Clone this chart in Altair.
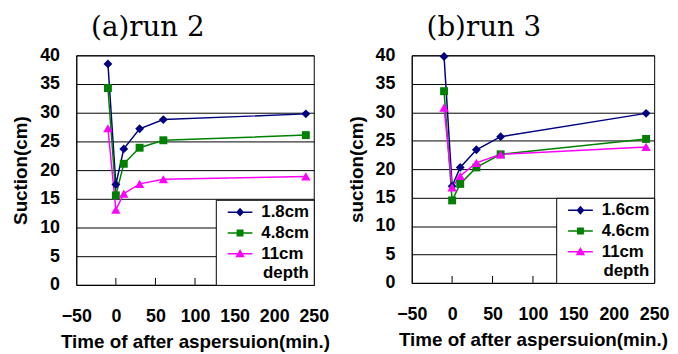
import altair as alt
import pandas as pd

# ---- data ----
times = [-10, 0, 10, 30, 60, 240]

run2_series = ["1.8cm", "4.8cm", "11cm"]
run2_values = [
    [38.5, 17.5, 23.7, 27.2, 28.8, 29.8],
    [34.3, 15.6, 21.1, 23.9, 25.2, 26.1],
    [27.3, 13.1, 15.9, 17.6, 18.4, 18.9],
]

run3_series = ["1.6cm", "4.6cm", "11cm"]
run3_values = [
    [39.8, 17.0, 20.3, 23.4, 25.7, 29.8],
    [33.7, 14.5, 17.4, 20.3, 22.6, 25.3],
    [30.8, 16.8, 18.8, 21.1, 22.6, 23.9],
]

colors = ["#000080", "#008000", "#FF00FF"]
marker_shapes = ["diamond", "square", "triangle-up"]
marker_sizes = [80, 64, 90]
# legend glyphs: a short line through the marker (all sub-paths clockwise, filled)
legend_shapes = [
    "M-2.5,-0.15L2.5,-0.15L2.5,0.15L-2.5,0.15Z M0,-0.9L0.8,0L0,0.9L-0.8,0Z",
    "M-2.5,-0.15L2.5,-0.15L2.5,0.15L-2.5,0.15Z M-0.7,-0.7L0.7,-0.7L0.7,0.7L-0.7,0.7Z",
    "M-2.5,-0.15L2.5,-0.15L2.5,0.15L-2.5,0.15Z M0,-0.95L0.95,0.7L-0.95,0.7Z",
]
x_tick_values = [-50, 0, 50, 100, 150, 200, 250]
x_inner_ticks = [0, 50, 100, 150, 200]
y_tick_values = [0, 5, 10, 15, 20, 25, 30, 35, 40]

FONT = "Liberation Sans"


def panel(title, series, values, ytitle, width, height):
    rows = []
    for s, vals in zip(series, values):
        for t, v in zip(times, vals):
            rows.append({"t": t, "v": v, "s": s})
    df = pd.DataFrame(rows)

    x = alt.X(
        "t:Q",
        scale=alt.Scale(domain=[-50, 250], nice=False, zero=False),
        axis=alt.Axis(
            values=x_tick_values,
            title="Time of after aspersuion(min.)",
            grid=False,
            ticks=False,
            labelPadding=23,
            titlePadding=7,
            labelOverlap=False,
            labelFlush=False,
        ),
    )
    y = alt.Y(
        "v:Q",
        scale=alt.Scale(domain=[0, 40], nice=False),
        axis=alt.Axis(
            values=y_tick_values,
            title=ytitle,
            grid=True,
            ticks=False,
            labelPadding=17,
            titlePadding=9,
            labelOverlap=False,
            labelFlush=False,
        ),
    )
    base = alt.Chart(df)

    layers = []
    for s, c in zip(series, colors):
        layers.append(
            base.transform_filter(alt.datum.s == s)
            .mark_line(strokeWidth=1.5, color=c)
            .encode(x=x, y=y)
        )
    for s, c, shp, sz in zip(series, colors, marker_shapes, marker_sizes):
        layers.append(
            base.transform_filter(alt.datum.s == s)
            .mark_point(filled=True, shape=shp, size=sz, opacity=1, color=c)
            .encode(x=x, y=y)
        )

    tick_df = pd.DataFrame({"t": x_inner_ticks})
    layers.append(
        alt.Chart(tick_df)
        .mark_rule(color="black", strokeWidth=1)
        .encode(x=x, y=alt.value(height - 7), y2=alt.value(height))
    )

    leg = alt.Legend(
        title="depth",
        orient="bottom-right",
        offset=0,
        titleOrient="bottom",
        titleAnchor="end",
        titleFont=FONT,
        titleFontSize=17,
        titleFontWeight="bold",
        titleColor="black",
        titlePadding=3,
        labelFont=FONT,
        labelFontSize=17,
        labelFontWeight="bold",
        labelColor="black",
        labelOffset=13,
        labelLimit=200,
        strokeColor="black",
        fillColor="white",
        padding=4,
        rowPadding=3,
        symbolSize=100,
        symbolStrokeWidth=0,
        symbolOffset=12,
    )
    layers.append(
        base.transform_filter("false")
        .mark_point(filled=True, opacity=1, strokeWidth=0)
        .encode(
            fill=alt.Fill("s:N", scale=alt.Scale(domain=series, range=colors), legend=leg),
            shape=alt.Shape("s:N", scale=alt.Scale(domain=series, range=legend_shapes), legend=leg),
        )
    )

    return alt.layer(*layers).properties(
        width=width,
        height=height,
        title=alt.TitleParams(
            title,
            anchor="start",
            frame="group",
            dx=15,
            offset=5,
            font="DejaVu Serif",
            fontSize=28,
            fontWeight="normal",
            color="black",
        ),
    )


left = panel("(a)run 2", run2_series, run2_values, "Suction(cm)", 240, 232)
right = panel("(b)run 3", run3_series, run3_values, "suction(cm)", 245, 230)

chart = (
    alt.hconcat(left, right, spacing=16)
    .resolve_scale(
        x="independent",
        y="independent",
        fill="independent",
        shape="independent",
    )
    .properties(padding={"left": 3, "top": 3, "right": 0, "bottom": 0})
    .configure_view(stroke="black", strokeWidth=1)
    .configure_axis(
        labelFont=FONT,
        labelFontSize=18,
        labelFontWeight="bold",
        labelColor="black",
        titleFont=FONT,
        titleFontSize=19,
        titleFontWeight="bold",
        titleColor="black",
        domainColor="black",
        gridColor="black",
        gridOpacity=1,
        gridWidth=1,
    )
    .configure_legend(
        labelFont=FONT,
        labelFontSize=17,
        labelFontWeight="bold",
        labelColor="black",
        titleFont=FONT,
        titleFontSize=17,
        titleFontWeight="bold",
        titleColor="black",
    )
)

chart.save("out.html", embed_options={"renderer": "svg", "actions": False})
